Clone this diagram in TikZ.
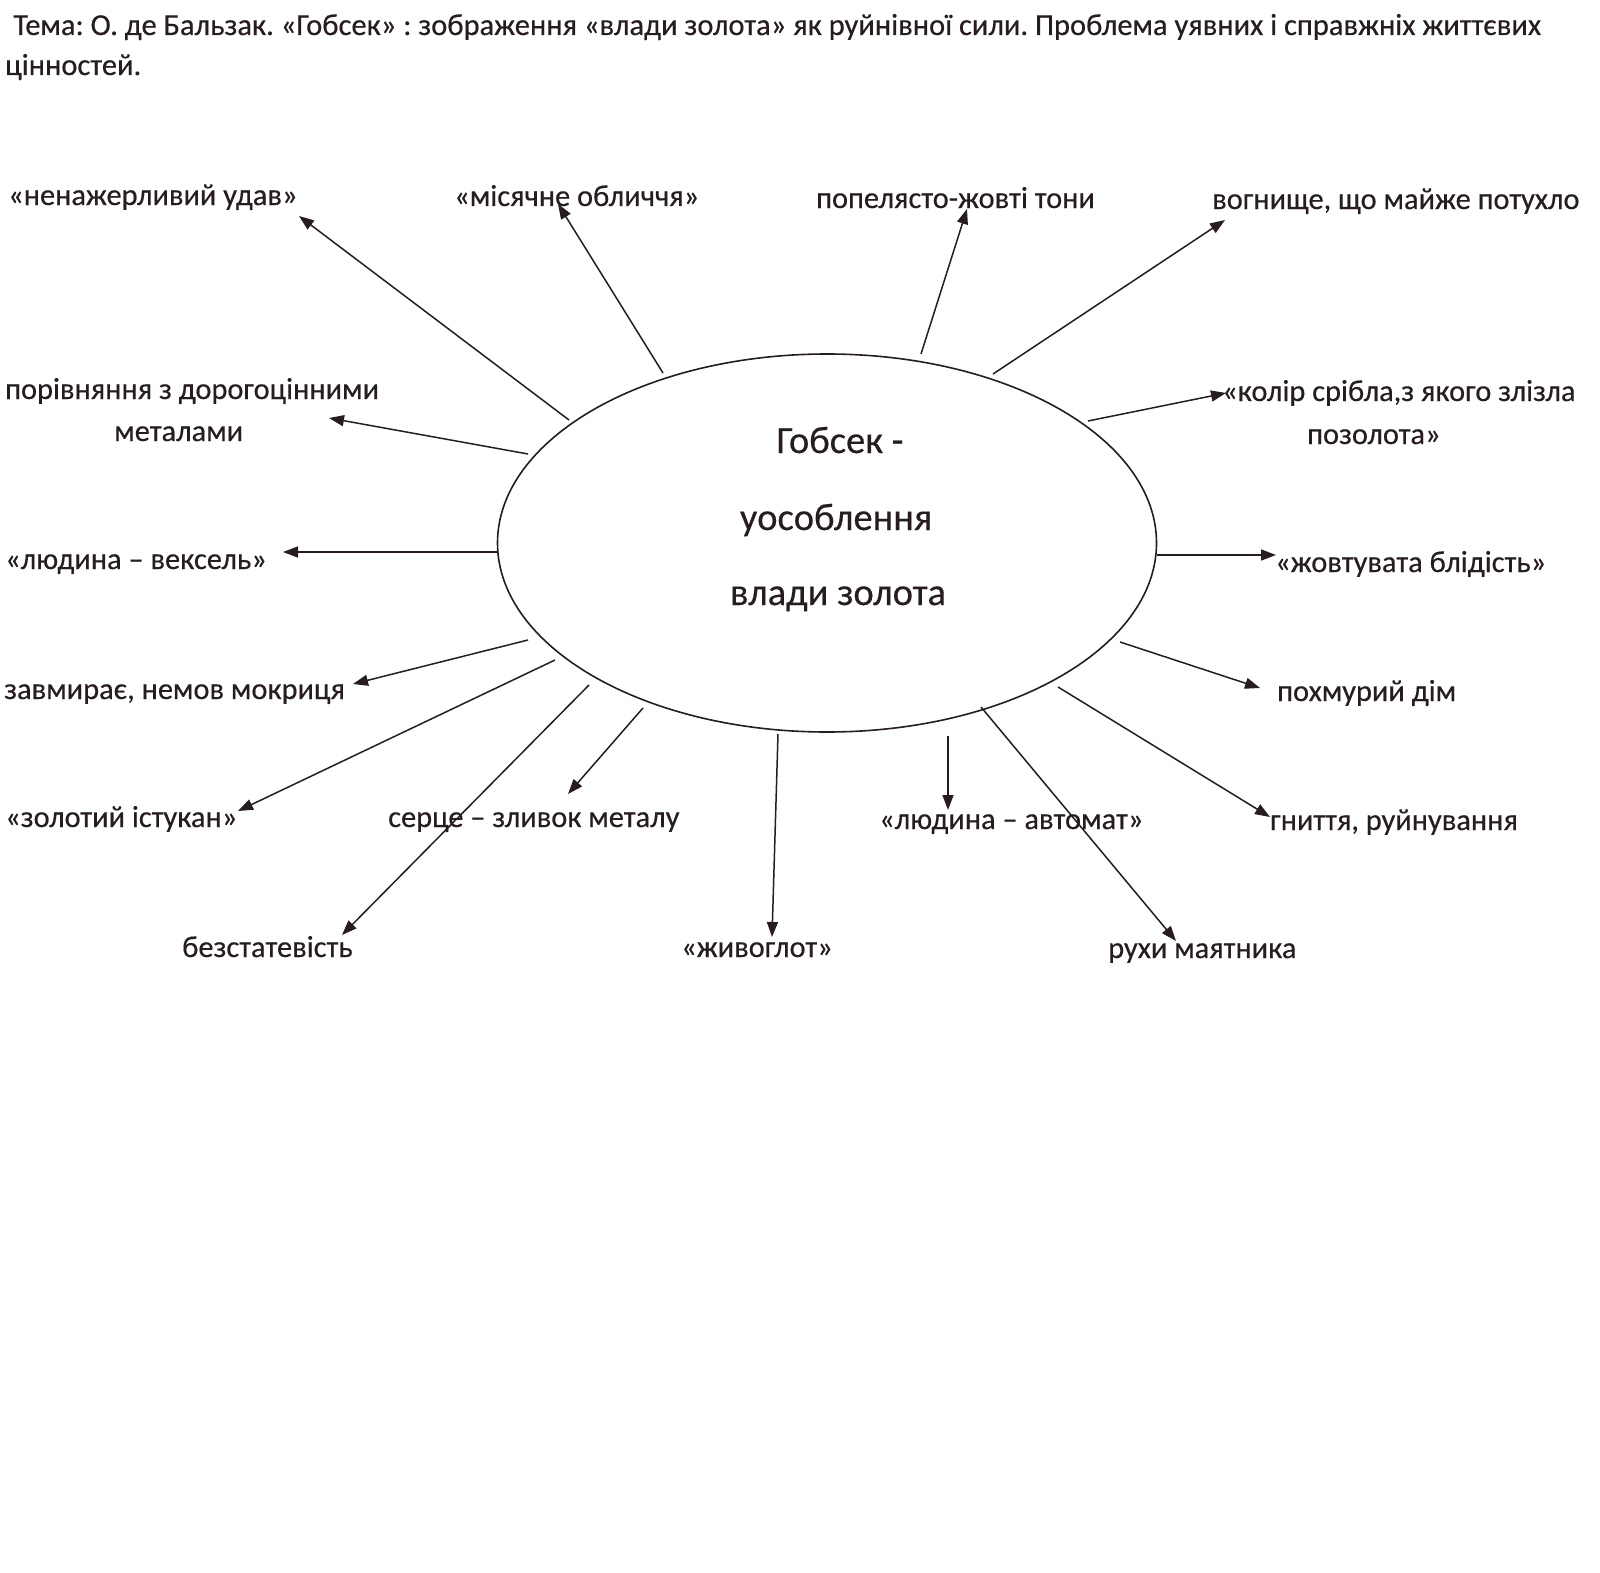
\documentclass[tikz,border=0pt]{standalone}
\usepackage{fontspec}
\setmainfont{Carlito}[FakeBold=0.35]
\usetikzlibrary{arrows.meta,shapes.geometric}
\definecolor{ink}{RGB}{38,28,34}
\frenchspacing
\begin{document}
\begin{tikzpicture}[x=1pt,y=-1pt,
  lbl/.style={anchor=base west,inner sep=0pt,text=ink,font=\fontsize{30.4}{42}\selectfont},
  ttl/.style={anchor=base west,inner sep=0pt,text=ink,font=\fontsize{30.5}{40}\selectfont},
  ctr/.style={anchor=base,inner sep=0pt,text=ink,font=\fontsize{38.5}{40}\selectfont},
  arr/.style={draw=ink,line width=1.5pt,-{Triangle[length=15pt,width=11pt]}},
]
\useasboundingbox[fill=white] (0,0) rectangle (1600,1573);

% title
\node[ttl] (t1) at (13,35) {Тема: О. де Бальзак. «Гобсек» : зображення «влади золота» як руйнівної сили. Проблема уявних і справжніх життєвих};
\node[ttl] (t2) at (5,75) {цінностей.};

% central ellipse
\node[ellipse,draw=ink,line width=1.6pt,minimum width=659pt,minimum height=378pt,inner sep=0pt] (g) at (827,543) {};
\node[ctr] (g1) at (840,453) {Гобсек -};
\node[ctr] (g2) at (836,530) {уособлення};
\node[ctr] (g3) at (838,605) {влади золота};

% labels
\node[lbl] (l1) at (8,205) {«ненажерливий удав»};
\node[lbl] (l2) at (454,206) {«місячне обличчя»};
\node[lbl] (l3) at (816,208) {попелясто-жовті тони};
\node[lbl] (l4) at (1212,209) {вогнище, що майже потухло};
\node[lbl,align=left] (l5) at (5,441) {порівняння з дорогоцінними\\\hspace*{109pt}металами};
\node[lbl,align=left,font=\fontsize{30.4}{43}\selectfont] (l6) at (1222,444) {«колір срібла,з якого злізла\\\hspace*{85pt}позолота»};
\node[lbl] (l7) at (5,569) {«людина – вексель»};
\node[lbl] (l8) at (1275,572) {«жовтувата блідість»};
\node[lbl] (l9) at (4,699) {завмирає, немов мокриця};
\node[lbl] (l10) at (1277,701) {похмурий дім};
\node[lbl] (l11) at (5,827) {«золотий істукан»};
\node[lbl] (l12) at (388,827) {серце – зливок металу};
\node[lbl] (l13) at (879,829) {«людина – автомат»};
\node[lbl] (l14) at (1270,830) {гниття, руйнування};
\node[lbl] (l15) at (182,957) {безстатевість};
\node[lbl] (l16) at (681,957) {«живоглот»};
\node[lbl] (l17) at (1108,958) {рухи маятника};

% arrow ends
\coordinate (s1) at (569,420);  \coordinate (e1) at (299,216);
\coordinate (s2) at (663,373);  \coordinate (e2) at (558,204);
\coordinate (s3) at (921,354);  \coordinate (e3) at (967,209);
\coordinate (s4) at (993,374);  \coordinate (e4) at (1225,220);
\coordinate (s5) at (528,454);  \coordinate (e5) at (329,418);
\coordinate (s6) at (1088,421); \coordinate (e6) at (1226,393);
\coordinate (s7) at (497,552);  \coordinate (e7) at (283,552);
\coordinate (s8) at (1157,555); \coordinate (e8) at (1276,555);
\coordinate (s9) at (528,640);  \coordinate (e9) at (353,684);
\coordinate (s10) at (1120,642); \coordinate (e10) at (1260,688);
\coordinate (s11) at (555,660); \coordinate (e11) at (238,811);
\coordinate (s12) at (589,685); \coordinate (e12) at (342,935);
\coordinate (s13) at (643,708); \coordinate (e13) at (568,794);
\coordinate (s14) at (778,734); \coordinate (e14) at (772,937);
\coordinate (s15) at (948,736); \coordinate (e15) at (948,810);
\coordinate (s16) at (981,707); \coordinate (e16) at (1176,941);
\coordinate (s17) at (1058,687); \coordinate (e17) at (1270,817);

\foreach \i in {1,...,17} {\draw[arr] (s\i) -- (e\i);}
\end{tikzpicture}
\end{document}
